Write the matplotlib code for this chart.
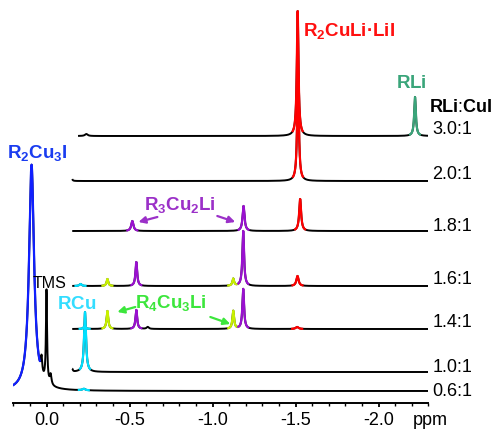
import numpy as np
import matplotlib
matplotlib.use("Agg")
import matplotlib.pyplot as plt

plt.rcParams['font.family'] = ['Liberation Sans', 'DejaVu Sans']
plt.rcParams['mathtext.fontset'] = 'custom'
plt.rcParams['mathtext.rm'] = 'Liberation Sans'
plt.rcParams['mathtext.bf'] = 'Liberation Sans:bold'
plt.rcParams['mathtext.it'] = 'Liberation Sans:italic'

# ---------------- data ----------------
ratios = ['0.6:1', '1.0:1', '1.4:1', '1.6:1', '1.8:1', '2.0:1', '3.0:1']
offsets = [12, 31, 74, 117, 172, 222, 267]          # stacking offsets
start_ppm = [0.2, -0.155, -0.155, -0.155, -0.155, -0.155, -0.19]
end_ppm = -2.3

# peaks: (shift ppm, height, half-width ppm, species)
spec_06 = [(0.09, 226, 0.018, 'R2Cu3I'), (0.0, 92, 0.004, 'TMS'),
           (0.03, 16, 0.005, 'TMS'), (-0.025, 10, 0.006, 'TMS'),
           (-0.225, 1.5, 0.01, 'RCu')]
spec_10 = [(-0.155, 3, 0.004, 'base'), (-0.232, 60, 0.007, 'RCu')]
spec_14 = [(-0.23, 3, 0.007, 'RCu'), (-0.367, 18, 0.006, 'R4Cu3Li'),
           (-0.541, 19, 0.006, 'R3Cu2Li'), (-0.61, 2, 0.008, 'base'),
           (-1.125, 18, 0.006, 'R4Cu3Li'), (-1.185, 40, 0.006, 'R3Cu2Li'),
           (-1.51, 2, 0.01, 'R2CuLi')]
spec_16 = [(-0.205, 2, 0.008, 'RCu'), (-0.367, 7, 0.006, 'R4Cu3Li'),
           (-0.541, 24, 0.006, 'R3Cu2Li'), (-1.125, 7, 0.006, 'R4Cu3Li'),
           (-1.185, 55, 0.006, 'R3Cu2Li'), (-1.512, 10, 0.008, 'R2CuLi')]
spec_18 = [(-0.517, 10, 0.008, 'R3Cu2Li'), (-1.187, 25, 0.007, 'R3Cu2Li'),
           (-1.528, 32, 0.007, 'R2CuLi')]
spec_20 = [(-0.15, 5, 0.004, 'base'), (-1.515, 110, 0.006, 'R2CuLi')]
spec_30 = [(-0.24, 2, 0.01, 'base'), (-1.513, 125, 0.006, 'R2CuLi'),
           (-2.22, 39, 0.006, 'RLi')]
spectra = [spec_06, spec_10, spec_14, spec_16, spec_18, spec_20, spec_30]

colors = {'R2Cu3I': '#1020ff', 'TMS': 'black', 'RCu': '#00e0ff',
          'R4Cu3Li': '#c8f000', 'R3Cu2Li': '#9a10d0', 'R2CuLi': '#ff0000',
          'RLi': '#3aa57a', 'base': 'black'}

# ---------------- figure ----------------
fig = plt.figure(figsize=(4.96, 4.31), dpi=100)
ax = fig.add_axes([13.3 / 496, 27 / 431, 415 / 496, 404 / 431])
ax.set_xlim(0.2, -2.3)
ax.set_ylim(0, 404)

def lor(x, x0, h, g):
    return h * g ** 2 / ((x - x0) ** 2 + g ** 2)

for spec, off, x0 in zip(spectra, offsets, start_ppm):
    x = np.linspace(x0, end_ppm, 6000)
    y = np.full_like(x, off, dtype=float)
    for (p, h, g, sp) in spec:
        y += lor(x, p, h, g)
    ax.plot(x, y, color='black', lw=1.4, solid_capstyle='butt', zorder=2)
    for (p, h, g, sp) in spec:
        if sp in ('base', 'TMS'):
            continue
        w = max(0.03, 2.5 * g)
        m = (x <= p + w) & (x >= p - w)
        if sp == 'R2Cu3I':
            m = x >= 0.04
        ax.plot(x[m], y[m], color=colors[sp], lw=1.6, zorder=3)

# ratio labels
label_dy = [0, 5, 7, 7, 5, 7, 7]
for r, off, dy in zip(ratios, offsets, label_dy):
    ax.text(-2.325, off + dy, r, fontsize=13, va='center', ha='left', clip_on=False)
ax.text(-2.497, 296, r'$\mathbf{RLi}$:$\mathbf{CuI}$', fontsize=13,
        va='center', ha='center', clip_on=False)

# species labels
ax.text(0.054, 251, r'$\mathbf{R_2Cu_3I}$', color='#1a3cf0', fontsize=13.5,
        ha='center', va='center')
ax.text(-0.02, 121, 'TMS', color='black', fontsize=11.5, ha='center', va='center')
ax.text(-0.18, 99, r'$\mathbf{RCu}$', color='#33ddff', fontsize=13.5,
        ha='center', va='center')
ax.text(-0.752, 101, r'$\mathbf{R_4Cu_3Li}$', color='#3ce63c', fontsize=13.5,
        ha='center', va='center')
ax.text(-0.806, 199, r'$\mathbf{R_3Cu_2Li}$', color='#9b30c8', fontsize=13.5,
        ha='center', va='center')
ax.text(-1.823, 373, r'$\mathbf{R_2CuLi·LiI}$', color='#ff1010', fontsize=13.5,
        ha='center', va='center')
ax.text(-2.196, 321, r'$\mathbf{RLi}$', color='#3aa57a', fontsize=13.5,
        ha='center', va='center')

arrow_kw = dict(arrowstyle='-|>', mutation_scale=10, lw=1.6, shrinkA=0, shrinkB=0)
ax.annotate('', xy=(-0.554, 181), xytext=(-0.668, 186),
            arrowprops=dict(color='#9b30c8', **arrow_kw))
ax.annotate('', xy=(-1.137, 181), xytext=(-1.029, 187),
            arrowprops=dict(color='#9b30c8', **arrow_kw))
ax.annotate('', xy=(-0.427, 91), xytext=(-0.535, 96),
            arrowprops=dict(color='#3ce63c', **arrow_kw))
ax.annotate('', xy=(-1.107, 79), xytext=(-0.987, 86),
            arrowprops=dict(color='#3ce63c', **arrow_kw))

# axis
for s in ('left', 'right', 'top'):
    ax.spines[s].set_visible(False)
ax.spines['bottom'].set_linewidth(1.4)
ax.set_yticks([])
ax.set_xticks([0.0, -0.5, -1.0, -1.5, -2.0])
ax.set_xticklabels(['0.0', '-0.5', '-1.0', '-1.5', '-2.0'])
ax.set_xticks(np.arange(0.2, -2.31, -0.1), minor=True)
ax.tick_params(axis='x', which='major', length=3, width=1.3, labelsize=13, pad=2.5)
ax.tick_params(axis='x', which='minor', length=2, width=1.0)
ax.text(-2.311, -17, 'ppm', fontsize=13, ha='center', va='center', clip_on=False)

fig.savefig('out.png', dpi=100)
